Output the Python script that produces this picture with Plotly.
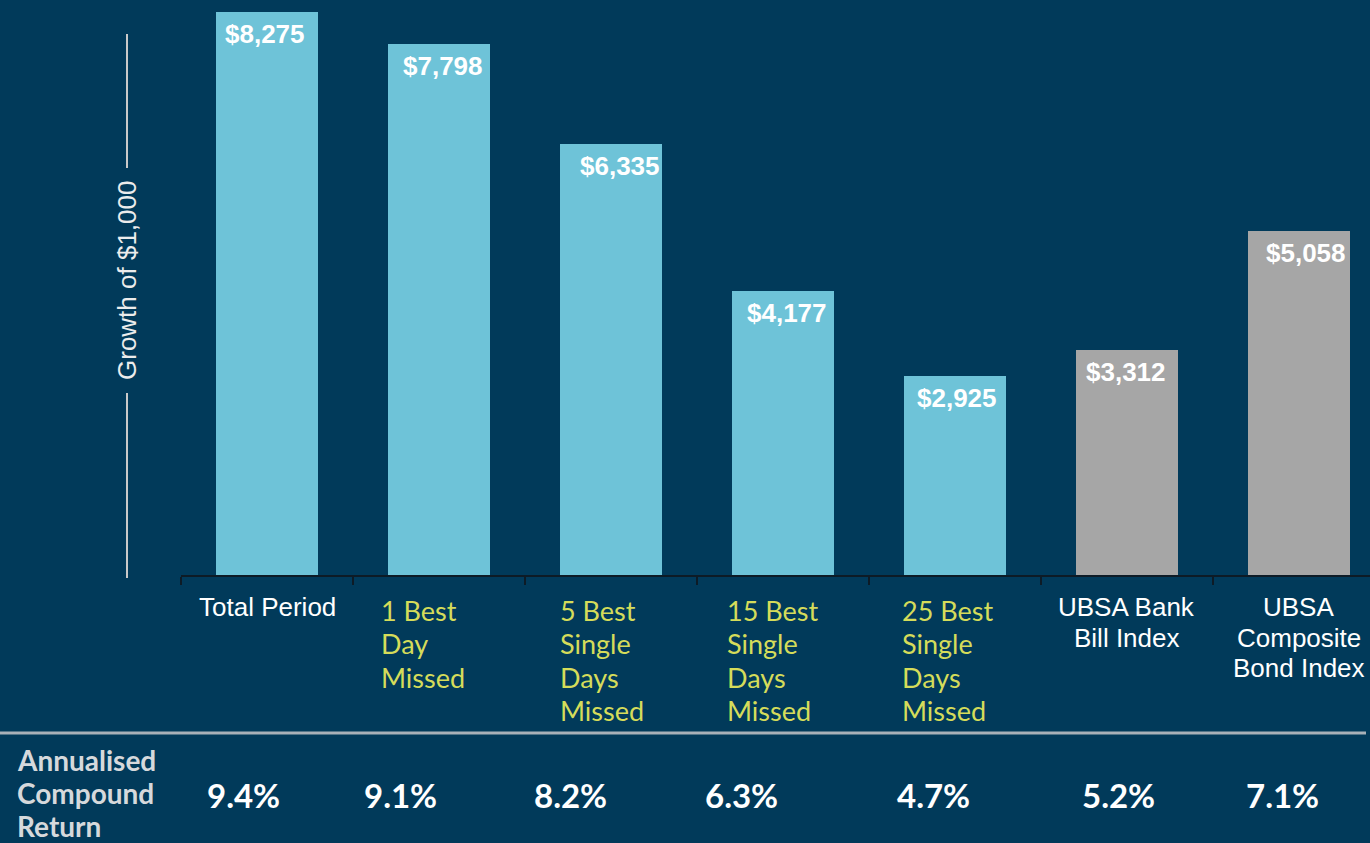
import plotly.graph_objects as go

# ---- data ----
categories = ["Total Period", "1 Best Day Missed", "5 Best Single Days Missed",
              "15 Best Single Days Missed", "25 Best Single Days Missed",
              "UBSA Bank Bill Index", "UBSA Composite Bond Index"]
label_lines = [["Total Period"], ["1 Best", "Day", "Missed"],
               ["5 Best", "Single", "Days", "Missed"],
               ["15 Best", "Single", "Days", "Missed"],
               ["25 Best", "Single", "Days", "Missed"],
               ["UBSA Bank", "Bill Index"], ["UBSA", "Composite", "Bond Index"]]
growth_values = [8275, 7798, 6335, 4177, 2925, 3312, 5058]
annual_returns = ["9.4%", "9.1%", "8.2%", "6.3%", "4.7%", "5.2%", "7.1%"]
is_missed = [False, True, True, True, True, False, False]
is_index = [False, False, False, False, False, True, True]

# ---- styling / layout ----
W, H = 1370, 843
L, T, B = 181, 0, 268
PLOT_H = H - T - B
BG = "#013a5a"
BLUE = "#6ec3d8"
GREY = "#a6a6a6"
YELLOW = "#d5dc5a"
AXIS = "#0d1b26"

def py(p):  # pixel y -> paper y
    return (PLOT_H + T - p) / PLOT_H

def px(p):  # pixel x -> paper x
    return (p - L) / (W - L)

x_idx = list(range(len(categories)))
colors = [GREY if g else BLUE for g in is_index]

fig = go.Figure()
fig.add_trace(go.Bar(x=x_idx, y=growth_values, width=0.593,
                     marker=dict(color=colors, line=dict(width=0)),
                     hoverinfo="skip", showlegend=False))

annotations = []
label_xshift = [-2, 4, 9, 4, 2, -1, 7]
for i, v in enumerate(growth_values):
    annotations.append(dict(x=i, y=v, xref="x", yref="y", text=f"<b>${v:,}</b>",
                            showarrow=False, yanchor="top", yshift=-5, xshift=label_xshift[i],
                            font=dict(family="Liberation Sans, Arial", size=26, color="white")))

# category labels
missed_xshift = [0, -60, -53, -58, -55, 0, 0]
for i, lines in enumerate(label_lines):
    if is_missed[i]:
        for k, line in enumerate(lines):
            annotations.append(dict(x=i, xref="x", y=py(610 + 33.5 * k), yref="paper", text=line,
                                    showarrow=False, xanchor="left", yanchor="middle",
                                    xshift=missed_xshift[i],
                                    font=dict(family="Lato", size=27, color=YELLOW)))
    else:
        for k, line in enumerate(lines):
            annotations.append(dict(x=i, xref="x", y=py(607 + 30.5 * k), yref="paper", text=line,
                                    showarrow=False, xanchor="center", yanchor="middle",
                                    font=dict(family="Liberation Sans, Arial", size=26, color="white")))

# y-axis title
annotations.append(dict(x=px(127), xref="paper", y=py(281), yref="paper",
                        text="Growth of $1,000", textangle=-90, showarrow=False,
                        xanchor="center", yanchor="middle",
                        font=dict(family="Liberation Sans, Arial", size=26, color="#ececec")))

# bottom row
for k, w in enumerate(["Annualised", "Compound", "Return"]):
    annotations.append(dict(x=px(15), xref="paper", y=py(760 + 33 * k), yref="paper",
                            text=f"<b>{w}</b>", showarrow=False, xanchor="left", yanchor="middle",
                            font=dict(family="Lato", size=28, color="#d6d9dc")))
ret_xshift = [-24, -38, -40, -41, -21, -8, -16]
for i, r in enumerate(annual_returns):
    annotations.append(dict(x=i, xref="x", y=py(795), yref="paper", text=f"<b>{r}</b>",
                            showarrow=False, xanchor="center", yanchor="middle",
                            xshift=ret_xshift[i],
                            font=dict(family="Lato", size=33, color="white")))

shapes = [
    dict(type="line", xref="paper", yref="paper", x0=px(127), x1=px(127), y0=py(34), y1=py(168),
         line=dict(color="#c9c9c9", width=2)),
    dict(type="line", xref="paper", yref="paper", x0=px(127), x1=px(127), y0=py(393), y1=py(578),
         line=dict(color="#c9c9c9", width=2)),
    dict(type="line", xref="paper", yref="paper", x0=px(0), x1=px(1366), y0=py(733), y1=py(733),
         line=dict(color="#a9b1b8", width=3)),
]

fig.update_layout(
    width=W, height=H,
    margin=dict(l=L, r=0, t=T, b=B, pad=0),
    paper_bgcolor=BG, plot_bgcolor=BG,
    bargap=0,
    xaxis=dict(range=[-0.5, 6.413], showgrid=False, zeroline=False,
               tickmode="array", tickvals=[i - 0.5 for i in range(len(categories) + 1)],
               ticks="outside", ticklen=8, tickwidth=1.5, tickcolor=AXIS,
               showticklabels=False, showline=True, linecolor=AXIS, linewidth=2),
    yaxis=dict(range=[0, PLOT_H / 0.06804], visible=False, fixedrange=True),
    annotations=annotations,
    shapes=shapes,
)

fig.write_html("out.html", config={"displayModeBar": False},
               post_script="document.body.style.margin='0';document.body.style.overflow='hidden';"
                           "document.body.style.background='" + BG + "';")
